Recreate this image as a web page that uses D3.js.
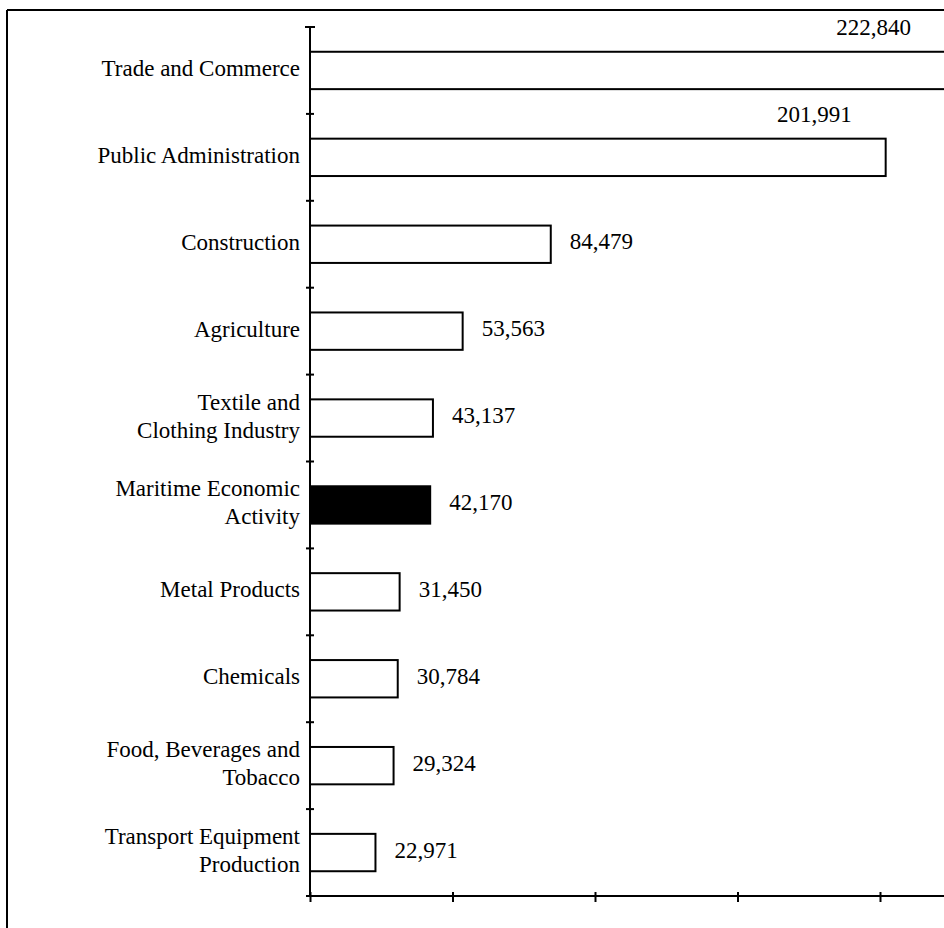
<!DOCTYPE html>
<html>
<head>
<meta charset="utf-8">
<script src="https://cdn.jsdelivr.net/npm/d3@7"></script>
<style>
  html, body { margin: 0; padding: 0; background: #fff; }
  svg { display: block; }
  text { font-family: "Liberation Serif", "Times New Roman", serif; fill: #000; }
</style>
</head>
<body>
<svg id="chart" width="944" height="928"></svg>
<script>
// ---- data ----
const categories = [
  "Trade and Commerce",
  "Public Administration",
  "Construction",
  "Agriculture",
  "Textile and\nClothing Industry",
  "Maritime Economic\nActivity",
  "Metal Products",
  "Chemicals",
  "Food, Beverages and\nTobacco",
  "Transport Equipment\nProduction"
];
const values = [222840, 201991, 84479, 53563, 43137, 42170, 31450, 30784, 29324, 22971];
const highlighted = ["Maritime Economic\nActivity"];
const xTicks = [0, 50000, 100000, 150000, 200000];
const labelAboveBar = ["Trade and Commerce", "Public Administration"];

// ---- layout ----
const svg = d3.select("#chart");
const x0 = 310, yTop = 27, yBottom = 896;
const fontSize = 23;

const x = d3.scaleLinear().domain([0, 200000]).range([x0, 880]);
const y = d3.scaleBand().domain(categories).range([yTop, yBottom]).paddingInner(0.57).paddingOuter(0.285);
const step = y.step();
const fmt = d3.format(",");

// frame (cropped at right and bottom)
svg.append("line").attr("x1", 7).attr("x2", 944).attr("y1", 10).attr("y2", 10)
  .attr("stroke", "#000").attr("stroke-width", 2);
svg.append("line").attr("x1", 7).attr("x2", 7).attr("y1", 10).attr("y2", 928)
  .attr("stroke", "#000").attr("stroke-width", 2);

// bars
svg.append("g").selectAll("rect")
  .data(categories)
  .join("rect")
  .attr("x", x(0))
  .attr("y", d => y(d))
  .attr("width", (d, i) => x(values[i]) - x(0))
  .attr("height", y.bandwidth())
  .attr("fill", d => highlighted.includes(d) ? "#000" : "#fff")
  .attr("stroke", "#000")
  .attr("stroke-width", 2);

// y axis (band boundaries)
const bounds = d3.range(categories.length + 1).map(i => yTop + i * step);
svg.append("line").attr("x1", x0).attr("x2", x0).attr("y1", yTop).attr("y2", yBottom)
  .attr("stroke", "#000").attr("stroke-width", 2);
svg.append("g").selectAll("line")
  .data(bounds)
  .join("line")
  .attr("x1", (d, i) => i === 0 ? x0 - 5 : x0 - 4)
  .attr("x2", (d, i) => i === 0 ? x0 + 5 : x0 + 4)
  .attr("y1", d => d).attr("y2", d => d)
  .attr("stroke", "#000").attr("stroke-width", 2);

// x axis
const xAxis = svg.append("g")
  .attr("transform", `translate(0,${yBottom})`)
  .call(d3.axisBottom(x).tickValues(xTicks).tickFormat("").tickSizeInner(6).tickSizeOuter(0));
xAxis.select(".domain").remove();
xAxis.selectAll(".tick line").attr("y1", -4).attr("y2", 6).attr("stroke", "#000").attr("stroke-width", 2);
xAxis.append("line").attr("x1", x0).attr("x2", 944).attr("y1", 0).attr("y2", 0)
  .attr("stroke", "#000").attr("stroke-width", 2);

// category labels
const catG = svg.append("g");
categories.forEach(c => {
  const lines = c.split("\n");
  const cy = y(c) + y.bandwidth() / 2;
  const lh = 28;
  const firstBaseline = cy + 5.5 - (lines.length - 1) * lh / 2;
  const t = catG.append("text")
    .attr("text-anchor", "end")
    .attr("font-size", fontSize);
  lines.forEach((ln, j) => {
    t.append("tspan").attr("x", 300).attr("y", firstBaseline + j * lh).text(ln);
  });
});

// value labels
svg.append("g").selectAll("text")
  .data(categories)
  .join("text")
  .attr("font-size", fontSize)
  .attr("text-anchor", d => labelAboveBar.includes(d) ? "end" : "start")
  .attr("x", (d, i) => labelAboveBar.includes(d) ? x(values[i]) - 34 : x(values[i]) + 19)
  .attr("y", d => labelAboveBar.includes(d) ? y(d) - 17 : y(d) + y.bandwidth() / 2 + 5)
  .text((d, i) => fmt(values[i]));
</script>
</body>
</html>
